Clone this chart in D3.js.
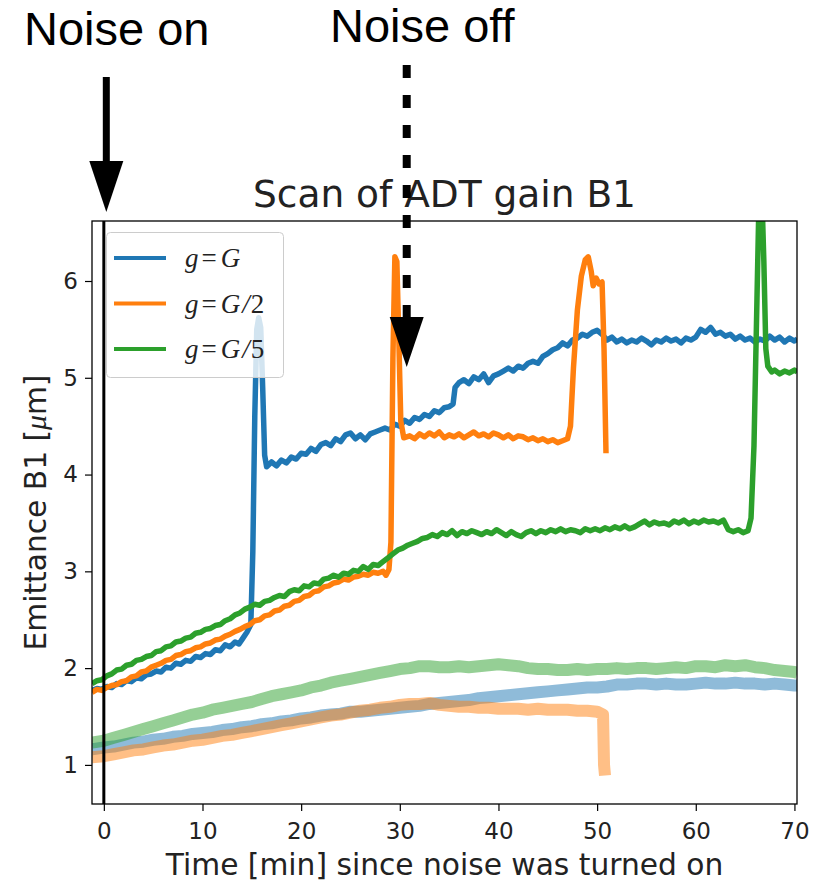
<!DOCTYPE html>
<html>
<head>
<meta charset="utf-8">
<script src="https://cdn.jsdelivr.net/npm/d3@7"></script>
<style>
  html, body { margin: 0; padding: 0; background: #fff; }
  svg { display: block; }
</style>
</head>
<body>
<svg id="chart" width="817" height="882"></svg>
<script>
// ---- Data: emittance [µm] vs. time [min] after the noise was switched on ----
// Full-gain scan, g = G
const emitG = [[-1.2,1.77],[-0.7,1.79],[-0.2,1.78],[0.3,1.81],[0.8,1.80],[1.3,1.84],[1.8,1.83],[2.3,1.87],[2.8,1.86],[3.3,1.90],[3.8,1.89],[4.3,1.93],[4.8,1.94],[5.3,1.97],[5.8,1.96],[6.3,2.01],[6.8,2.00],[7.3,2.05],[7.8,2.04],[8.3,2.08],[8.8,2.07],[9.3,2.12],[9.8,2.11],[10.3,2.15],[10.8,2.14],[11.3,2.19],[11.8,2.18],[12.3,2.24],[12.8,2.22],[13.3,2.27],[13.7,2.25],[14.1,2.31],[14.5,2.37],[14.9,2.45],[15.1,3.2],[15.3,4.6],[15.5,5.5],[15.7,5.62],[15.9,5.52],[16.1,4.9],[16.3,4.2],[16.5,4.08],[17,4.13],[17.5,4.09],[18,4.15],[18.5,4.12],[19,4.18],[19.5,4.16],[20,4.22],[20.5,4.21],[21,4.27],[21.5,4.24],[22,4.31],[22.5,4.33],[23,4.30],[23.5,4.37],[24,4.34],[24.5,4.41],[25,4.43],[25.5,4.37],[26,4.41],[26.5,4.36],[27,4.42],[27.5,4.44],[28,4.46],[28.5,4.48],[29,4.46],[29.5,4.52],[30,4.50],[30.5,4.56],[31,4.53],[31.5,4.59],[32,4.57],[32.5,4.62],[33,4.60],[33.5,4.66],[34,4.64],[34.5,4.69],[35,4.70],[35.4,4.73],[35.6,4.90],[36,4.95],[36.5,4.98],[37,4.94],[37.5,5.01],[38,4.98],[38.5,5.04],[39,4.95],[39.5,5.02],[40,5.04],[40.5,5.07],[41,5.10],[41.5,5.07],[42,5.12],[42.5,5.10],[43,5.15],[43.5,5.17],[44,5.15],[44.5,5.22],[45,5.25],[45.5,5.29],[46,5.31],[46.5,5.36],[47,5.33],[47.5,5.39],[48,5.41],[48.5,5.45],[49,5.43],[49.5,5.47],[50,5.49],[50.5,5.45],[51,5.39],[51.5,5.42],[52,5.37],[52.5,5.40],[53,5.36],[53.5,5.39],[54,5.37],[54.5,5.41],[55,5.38],[55.5,5.34],[56,5.39],[56.5,5.37],[57,5.41],[57.5,5.38],[58,5.40],[58.5,5.36],[59,5.41],[59.5,5.39],[60,5.42],[60.5,5.50],[61,5.47],[61.5,5.52],[62,5.45],[62.5,5.47],[63,5.43],[63.5,5.45],[64,5.40],[64.5,5.43],[65,5.39],[65.5,5.41],[66,5.37],[66.5,5.40],[67,5.38],[67.5,5.43],[68,5.39],[68.5,5.42],[69,5.37],[69.5,5.41],[70,5.38],[70.3,5.40]];

// Half-gain scan, g = G/2
const emitHalf = [[-1.2,1.75],[-0.7,1.78],[-0.2,1.77],[0.3,1.80],[0.8,1.82],[1.3,1.83],[1.8,1.86],[2.3,1.87],[2.8,1.91],[3.3,1.92],[3.8,1.96],[4.3,1.97],[4.8,2.01],[5.3,2.03],[5.8,2.05],[6.3,2.08],[6.8,2.09],[7.3,2.13],[7.8,2.14],[8.3,2.17],[8.8,2.18],[9.3,2.21],[9.8,2.22],[10.3,2.25],[10.8,2.26],[11.3,2.29],[11.8,2.30],[12.3,2.33],[12.8,2.35],[13.3,2.38],[13.8,2.40],[14.3,2.43],[14.8,2.45],[15.3,2.49],[15.8,2.50],[16.3,2.54],[16.8,2.55],[17.3,2.59],[17.8,2.60],[18.3,2.64],[18.8,2.65],[19.3,2.69],[19.8,2.70],[20.3,2.74],[20.8,2.75],[21.3,2.79],[21.8,2.80],[22.3,2.84],[22.8,2.85],[23.3,2.88],[23.8,2.89],[24.3,2.92],[24.8,2.91],[25.3,2.94],[25.8,2.95],[26.3,2.97],[26.8,2.96],[27.3,2.99],[27.8,2.98],[28.3,3.00],[28.6,2.96],[28.9,3.02],[29.1,3.3],[29.3,5.2],[29.5,6.25],[29.7,6.2],[29.9,5.4],[30.1,4.55],[30.4,4.38],[31,4.40],[31.5,4.37],[32,4.42],[32.5,4.39],[33,4.43],[33.5,4.40],[34,4.44],[34.5,4.38],[35,4.41],[35.5,4.39],[36,4.42],[36.5,4.38],[37,4.41],[37.5,4.44],[38,4.40],[38.5,4.42],[39,4.39],[39.5,4.43],[40,4.41],[40.5,4.38],[41,4.41],[41.5,4.37],[42,4.40],[42.5,4.39],[43,4.36],[43.5,4.38],[44,4.35],[44.5,4.37],[45,4.34],[45.5,4.36],[46,4.33],[46.5,4.35],[47,4.37],[47.3,4.50],[47.6,5.1],[48,5.7],[48.4,6.05],[48.8,6.22],[49.1,6.25],[49.4,6.1],[49.6,5.95],[49.9,6.03],[50.2,5.97],[50.5,5.99],[50.7,5.3],[50.9,4.22]];

// Fifth-gain scan, g = G/5
const emitFifth = [[-1.2,1.84],[-0.7,1.87],[-0.2,1.88],[0.3,1.92],[0.8,1.94],[1.3,1.98],[1.8,1.99],[2.3,2.03],[2.8,2.04],[3.3,2.08],[3.8,2.09],[4.3,2.12],[4.8,2.13],[5.3,2.17],[5.8,2.18],[6.3,2.22],[6.8,2.23],[7.3,2.27],[7.8,2.28],[8.3,2.31],[8.8,2.32],[9.3,2.36],[9.8,2.37],[10.3,2.40],[10.8,2.41],[11.3,2.44],[11.8,2.45],[12.3,2.49],[12.8,2.51],[13.3,2.55],[13.8,2.57],[14.3,2.61],[14.8,2.63],[15.3,2.66],[15.8,2.65],[16.3,2.69],[16.8,2.70],[17.3,2.73],[17.8,2.75],[18.3,2.74],[18.8,2.79],[19.3,2.81],[19.8,2.80],[20.3,2.85],[20.8,2.84],[21.3,2.88],[21.8,2.87],[22.3,2.92],[22.8,2.93],[23.3,2.96],[23.8,2.94],[24.3,2.98],[24.8,2.97],[25.3,3.01],[25.8,3.00],[26.3,3.05],[26.8,3.02],[27.3,3.07],[27.8,3.06],[28.3,3.10],[28.8,3.14],[29.3,3.18],[29.8,3.22],[30.3,3.24],[30.8,3.27],[31.3,3.29],[31.8,3.31],[32.3,3.34],[32.8,3.35],[33.3,3.38],[33.8,3.36],[34.3,3.40],[34.8,3.38],[35.3,3.42],[35.8,3.37],[36.3,3.41],[36.8,3.39],[37.3,3.42],[37.8,3.40],[38.3,3.38],[38.8,3.41],[39.3,3.39],[39.8,3.43],[40.3,3.40],[40.8,3.37],[41.3,3.41],[41.8,3.38],[42.3,3.36],[42.8,3.40],[43.3,3.42],[43.8,3.39],[44.3,3.42],[44.8,3.40],[45.3,3.43],[45.8,3.41],[46.3,3.44],[46.8,3.41],[47.3,3.43],[47.8,3.42],[48.3,3.40],[48.8,3.44],[49.3,3.42],[49.8,3.44],[50.3,3.42],[50.8,3.45],[51.3,3.43],[51.8,3.46],[52.3,3.44],[52.8,3.47],[53.3,3.44],[53.8,3.46],[54.3,3.49],[54.8,3.52],[55.3,3.48],[55.8,3.51],[56.3,3.49],[56.8,3.50],[57.3,3.48],[57.8,3.52],[58.3,3.50],[58.8,3.53],[59.3,3.49],[59.8,3.52],[60.3,3.50],[60.8,3.53],[61.3,3.51],[61.8,3.52],[62.3,3.50],[62.8,3.53],[63.3,3.43],[63.8,3.41],[64.3,3.43],[64.8,3.40],[65.3,3.42],[65.6,3.55],[65.9,4.3],[66.2,5.8],[66.4,6.8],[66.7,6.9],[66.9,6.2],[67.1,5.3],[67.3,5.12],[67.7,5.06],[68,5.08],[68.5,5.04],[69,5.07],[69.5,5.05],[70,5.08],[70.3,5.06]];

// Second emittance trace of each scan (drawn pale)
const emitGPale = [[-1.2,1.16],[0,1.18],[1,1.19],[2,1.21],[3,1.23],[4,1.24],[5,1.26],[6,1.27],[7,1.29],[8,1.30],[9,1.32],[10,1.33],[11,1.34],[12,1.36],[13,1.37],[14,1.39],[15,1.40],[16,1.42],[17,1.43],[18,1.45],[19,1.46],[20,1.48],[21,1.49],[22,1.51],[23,1.52],[24,1.53],[25,1.55],[26,1.55],[27,1.56],[28,1.57],[29,1.58],[30,1.59],[31,1.60],[32,1.61],[33,1.63],[34,1.64],[35,1.65],[36,1.66],[37,1.67],[38,1.69],[39,1.70],[40,1.71],[41,1.72],[42,1.73],[43,1.74],[44,1.75],[45,1.76],[46,1.77],[47,1.78],[48,1.79],[49,1.80],[50,1.80],[51,1.81],[52,1.83],[53,1.83],[54,1.84],[55,1.84],[56,1.83],[57,1.84],[58,1.83],[59,1.83],[60,1.84],[61,1.85],[62,1.84],[63,1.84],[64,1.85],[65,1.84],[66,1.84],[67,1.83],[68,1.84],[69,1.83],[70,1.82],[70.3,1.82]];
const emitHalfPale = [[-1.2,1.08],[0,1.09],[1,1.11],[2,1.13],[3,1.15],[4,1.16],[5,1.18],[6,1.20],[7,1.21],[8,1.23],[9,1.25],[10,1.26],[11,1.28],[12,1.30],[13,1.31],[14,1.33],[15,1.35],[16,1.37],[17,1.39],[18,1.41],[19,1.43],[20,1.45],[21,1.47],[22,1.49],[23,1.51],[24,1.52],[25,1.54],[26,1.56],[27,1.57],[28,1.59],[29,1.60],[30,1.62],[31,1.63],[32,1.63],[33,1.64],[34,1.62],[35,1.61],[36,1.60],[37,1.60],[38,1.59],[39,1.59],[40,1.58],[41,1.58],[42,1.58],[43,1.57],[44,1.58],[45,1.57],[46,1.57],[47,1.57],[48,1.56],[49,1.56],[50,1.55],[50.6,1.52],[50.7,1.0],[50.8,0.89]];
const emitFifthPale = [[-1.2,1.23],[0,1.25],[1,1.28],[2,1.31],[3,1.34],[4,1.37],[5,1.40],[6,1.43],[7,1.46],[8,1.49],[9,1.52],[10,1.54],[11,1.57],[12,1.59],[13,1.61],[14,1.63],[15,1.65],[16,1.68],[17,1.71],[18,1.73],[19,1.75],[20,1.77],[21,1.80],[22,1.82],[23,1.85],[24,1.87],[25,1.89],[26,1.91],[27,1.93],[28,1.95],[29,1.97],[30,1.99],[31,2.00],[32,2.02],[33,2.02],[34,2.01],[35,2.01],[36,2.02],[37,2.01],[38,2.02],[39,2.03],[40,2.04],[41,2.03],[42,2.02],[43,2.00],[44,1.99],[45,1.99],[46,1.98],[47,1.98],[48,1.99],[49,1.98],[50,1.99],[51,1.99],[52,2.00],[53,1.99],[54,2.00],[55,2.00],[56,1.99],[57,2.00],[58,2.01],[59,2.00],[60,2.02],[61,2.02],[62,2.01],[63,2.03],[64,2.02],[65,2.03],[66,2.01],[67,2.00],[68,1.98],[69,1.97],[70,1.96],[70.3,1.95]];

const xTicks = [0, 10, 20, 30, 40, 50, 60, 70];
const yTicks = [1, 2, 3, 4, 5, 6];
const seriesNames = ["G", "G/2", "G/5"];
const seriesColors = ["#1f77b4", "#ff7f0e", "#2ca02c"];
const noiseOnAt = 0.25;   // minute the noise was switched on (arrow)
const noiseOffAt = 30.7;  // minute the noise was switched off (arrow)

// ---- Layout ----
const svg = d3.select("#chart");
const plot = { left: 92, right: 797, top: 221, bottom: 804 };
const x = d3.scaleLinear().domain([-1.2, 70.26]).range([plot.left, plot.right]);
const y = d3.scaleLinear().domain([0.596, 6.62]).range([plot.bottom, plot.top]);
const sans = "DejaVu Sans, Bitstream Vera Sans, sans-serif";

svg.append("rect").attr("width", 817).attr("height", 882).attr("fill", "#fff");

svg.append("defs").append("clipPath").attr("id", "plotClip")
  .append("rect")
  .attr("x", plot.left).attr("y", plot.top)
  .attr("width", plot.right - plot.left).attr("height", plot.bottom - plot.top);

const line = d3.line().x(d => x(d[0])).y(d => y(d[1]));
const traces = svg.append("g").attr("clip-path", "url(#plotClip)");

// pale traces underneath
[[emitGPale, 0], [emitHalfPale, 1], [emitFifthPale, 2]].forEach(([data, i]) => {
  traces.append("path").datum(data)
    .attr("d", line)
    .attr("fill", "none")
    .attr("stroke", seriesColors[i])
    .attr("stroke-opacity", 0.5)
    .attr("stroke-width", 12)
    .attr("stroke-linejoin", "round");
});
// main traces
[[emitG, 0], [emitHalf, 1], [emitFifth, 2]].forEach(([data, i]) => {
  traces.append("path").datum(data)
    .attr("d", line)
    .attr("fill", "none")
    .attr("stroke", seriesColors[i])
    .attr("stroke-width", 5.5)
    .attr("stroke-linejoin", "round");
});

// vertical marker at t = 0
traces.append("line")
  .attr("x1", x(0)).attr("x2", x(0))
  .attr("y1", plot.top).attr("y2", plot.bottom)
  .attr("stroke", "#000").attr("stroke-width", 3);

// ---- Axes ----
const xAxis = svg.append("g")
  .attr("transform", `translate(0,${plot.bottom})`)
  .call(d3.axisBottom(x).tickValues(xTicks).tickSize(7).tickPadding(12).tickFormat(d3.format("d")));
const yAxis = svg.append("g")
  .attr("transform", `translate(${plot.left},0)`)
  .call(d3.axisLeft(y).tickValues(yTicks).tickSize(7).tickPadding(7).tickFormat(d3.format("d")));
[xAxis, yAxis].forEach(g => {
  g.select(".domain").remove();
  g.selectAll(".tick line").attr("stroke", "#000").attr("stroke-width", 1.2);
  g.selectAll(".tick text").attr("font-family", sans).attr("font-size", 23).attr("fill", "#222");
});

// frame
svg.append("rect")
  .attr("x", plot.left).attr("y", plot.top)
  .attr("width", plot.right - plot.left).attr("height", plot.bottom - plot.top)
  .attr("fill", "none").attr("stroke", "#000").attr("stroke-width", 1.3);

// ---- Titles ----
svg.append("text")
  .attr("x", (plot.left + plot.right) / 2).attr("y", 207)
  .attr("text-anchor", "middle")
  .attr("font-family", sans).attr("font-size", 37.5).attr("fill", "#222")
  .text("Scan of ADT gain B1");

svg.append("text")
  .attr("x", (plot.left + plot.right) / 2).attr("y", 875)
  .attr("text-anchor", "middle")
  .attr("font-family", sans).attr("font-size", 29.7).attr("fill", "#222")
  .text("Time [min] since noise was turned on");

const yLab = svg.append("text")
  .attr("transform", `translate(46,${(plot.top + plot.bottom) / 2}) rotate(-90)`)
  .attr("text-anchor", "middle")
  .attr("font-family", sans).attr("font-size", 29.7).attr("fill", "#222");
yLab.append("tspan").text("Emittance B1 [");
yLab.append("tspan").attr("font-family", "Liberation Serif, serif").attr("font-style", "italic").text("μ");
yLab.append("tspan").text("m]");

// ---- Legend ----
const legend = svg.append("g");
legend.append("rect")
  .attr("x", 106.5).attr("y", 232.5).attr("width", 177).attr("height", 145)
  .attr("rx", 4).attr("ry", 4)
  .attr("fill", "#fff").attr("fill-opacity", 0.8)
  .attr("stroke", "#ccc").attr("stroke-width", 1);
seriesNames.forEach((name, i) => {
  const cy = 258 + i * 45.5;
  legend.append("line")
    .attr("x1", 114).attr("x2", 166).attr("y1", cy).attr("y2", cy)
    .attr("stroke", seriesColors[i]).attr("stroke-width", 4);
  const t = legend.append("text")
    .attr("x", 185).attr("y", cy + 9)
    .attr("font-family", "Liberation Serif, Times New Roman, serif")
    .attr("font-size", 27).attr("fill", "#222");
  t.append("tspan").attr("font-style", "italic").text("g");
  t.append("tspan").attr("dx", 3).text("=");
  const parts = name.split("/");
  t.append("tspan").attr("dx", 4).attr("font-style", "italic").text(parts[0]);
  if (parts.length > 1) {
    t.append("tspan").attr("dx", 2).attr("font-style", "italic").text("/");
    t.append("tspan").attr("dx", 1).text(parts[1]);
  }
});

// ---- Annotations above the axes ----
const ann = "Liberation Sans, Arial, sans-serif";
svg.append("text").attr("x", 24).attr("y", 45)
  .attr("font-family", ann).attr("font-size", 47).attr("fill", "#000")
  .text("Noise on");
svg.append("text").attr("x", 330).attr("y", 42)
  .attr("font-family", ann).attr("font-size", 47).attr("fill", "#000")
  .text("Noise off");

// solid arrow: noise switched on
const xOn = x(noiseOnAt);
svg.append("line")
  .attr("x1", xOn).attr("x2", xOn).attr("y1", 77).attr("y2", 165)
  .attr("stroke", "#000").attr("stroke-width", 7);
svg.append("path")
  .attr("d", `M${xOn - 17},161 L${xOn + 17},161 L${xOn},212 Z`)
  .attr("fill", "#000");

// dashed arrow: noise switched off
const xOff = x(noiseOffAt);
svg.append("line")
  .attr("x1", xOff).attr("x2", xOff).attr("y1", 65).attr("y2", 318)
  .attr("stroke", "#000").attr("stroke-width", 8)
  .attr("stroke-dasharray", "13,17");
svg.append("path")
  .attr("d", `M${xOff - 17},317 L${xOff + 17},317 L${xOff},367 Z`)
  .attr("fill", "#000");
</script>
</body>
</html>
